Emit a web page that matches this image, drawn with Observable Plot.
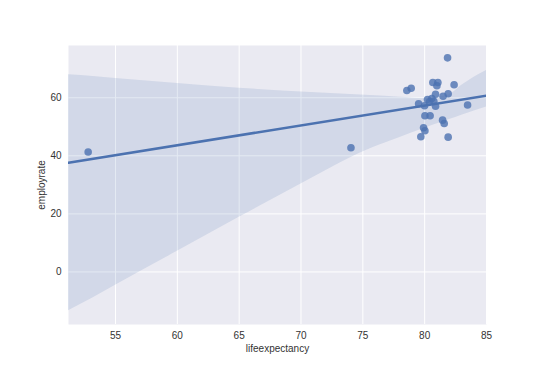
<!DOCTYPE html>
<html>
<head>
<meta charset="utf-8">
<script src="https://cdn.jsdelivr.net/npm/d3@7"></script>
<script src="https://cdn.jsdelivr.net/npm/@observablehq/plot@0.6"></script>
<style>
  html, body { margin: 0; padding: 0; background: #ffffff; }
  #chart { width: 540px; height: 371px; }
  svg { font-family: "Liberation Sans", Arial, sans-serif; }
</style>
</head>
<body>
<div id="chart"></div>
<script>
// Data
const lifeexpectancy = [
  81.85, 78.56, 78.91, 80.66, 81.07, 80.99, 82.38, 80.88, 81.49, 81.90,
  80.58, 80.23, 80.40, 80.74, 79.51, 79.99, 80.88, 83.47, 80.02, 80.44,
  81.45, 81.58, 79.91, 80.02, 79.69, 81.90, 74.04, 52.79
];
const employrate = [
  73.75, 62.50, 63.30, 65.26, 65.26, 64.12, 64.47, 61.23, 60.54, 61.37,
  59.75, 59.41, 58.62, 58.82, 57.93, 57.24, 57.10, 57.52, 53.80, 53.80,
  52.29, 51.15, 49.67, 48.64, 46.58, 46.44, 42.80, 41.30
];
// 95% confidence band of the fit (seaborn bootstrap)
const bandX  = [51.2, 53.2, 55, 60, 65, 70, 72.4, 74, 75.6, 78, 80, 81.2, 82, 83, 85];
const bandLo = [-13.4, -8.9, -4.6, 7.1, 18.8, 30.3, 35.8, 39.3, 42.4, 46.3, 49.5, 51.3, 52.5, 54, 56.8];
const bandHi = [67.9, 67.3, 66.6, 64.9, 63.3, 62, 61.5, 61.1, 60.8, 60.2, 59.8, 60.2, 61, 64.3, 69.4];
const xTicks = [55, 60, 65, 70, 75, 80, 85];
const yTicks = [0, 20, 40, 60];
const xDomain = [51.2, 85];
const yDomain = [-18.1, 78];

const points = lifeexpectancy.map((x, i) => ({x, y: employrate[i]}));
const band = bandX.map((x, i) => ({x, lo: bandLo[i], hi: bandHi[i]}));

// Ordinary least squares fit, extended over the full x range
const xbar = d3.mean(points, d => d.x);
const ybar = d3.mean(points, d => d.y);
const sxx = d3.sum(points, d => (d.x - xbar) ** 2);
const sxy = d3.sum(points, d => (d.x - xbar) * (d.y - ybar));
const b = sxy / sxx;
const a = ybar - b * xbar;
const fit = xDomain.map(x => ({x, y: a + b * x}));

const color = "#4C72B0";
const chart = Plot.plot({
  width: 540,
  height: 371,
  marginLeft: 68,
  marginRight: 54,
  marginTop: 45,
  marginBottom: 47,
  style: {fontSize: "10px", color: "#333333", fontFamily: "Liberation Sans, Arial, sans-serif"},
  x: {domain: xDomain},
  y: {domain: yDomain},
  marks: [
    Plot.frame({fill: "#EAEAF2", stroke: null}),
    Plot.gridX(xTicks, {stroke: "#ffffff", strokeOpacity: 1, strokeWidth: 1}),
    Plot.gridY(yTicks, {stroke: "#ffffff", strokeOpacity: 1, strokeWidth: 1}),
    Plot.axisX(xTicks, {tickSize: 0, tickPadding: 7, label: "lifeexpectancy", labelAnchor: "center", labelArrow: "none", labelOffset: 27, fill: "#333333"}),
    Plot.axisY(yTicks, {tickSize: 0, tickPadding: 7, label: "employrate", labelAnchor: "center", labelArrow: "none", labelOffset: 31, fill: "#333333"}),
    Plot.areaY(band, {x: "x", y1: "lo", y2: "hi", fill: color, fillOpacity: 0.15, curve: "monotone-x", clip: true}),
    Plot.dot(points, {x: "x", y: "y", r: 3.8, fill: color, fillOpacity: 0.8, stroke: null}),
    Plot.line(fit, {x: "x", y: "y", stroke: color, strokeWidth: 2.6, clip: true})
  ]
});
document.getElementById("chart").appendChild(chart);
</script>
</body>
</html>
